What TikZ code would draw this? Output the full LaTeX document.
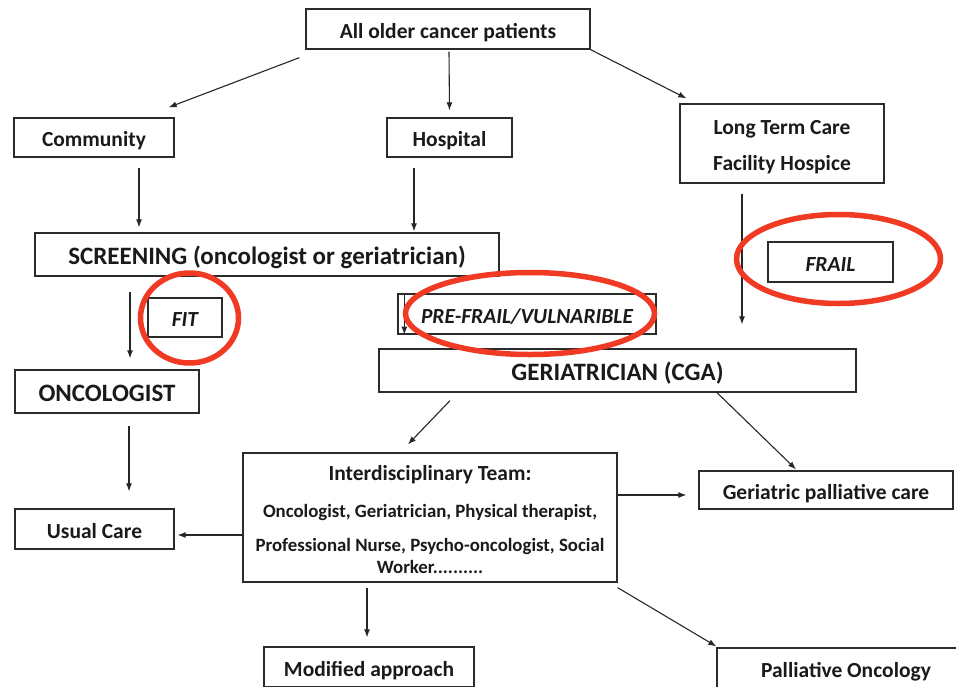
\documentclass[tikz,border=0pt]{standalone}
\usepackage{fontspec}
\setmainfont{Carlito}
\usepackage{xcolor}
\definecolor{BoxLine}{HTML}{2B2B2B}
\definecolor{ArrowLine}{HTML}{262626}
\definecolor{TextBlack}{HTML}{1A1A1A}
\definecolor{RingRed}{HTML}{F03A24}
\usepackage{tikz}
\usetikzlibrary{arrows.meta, positioning, calc}

\begin{document}
\begin{tikzpicture}[
  x=1pt, y=-1pt,
  every node/.style={font=\fontsize{21.5}{26}\selectfont\bfseries, text=TextBlack},
  box/.style={draw=BoxLine, line width=1.3pt, fill=white, inner sep=0pt,
              align=center},
  onebox/.style={box, text height=21pt, text depth=2.2pt},
  bigbox/.style={box, font=\fontsize{25}{30}\selectfont\bfseries,
                 text height=22.5pt, text depth=3.5pt},
  markbox/.style={onebox, font=\fontsize{21.5}{26}\selectfont\bfseries\itshape},
  arr/.style={-{Latex[length=8pt,width=6pt]}, draw=ArrowLine,
              line width=1.1pt},
  ring/.style={draw=RingRed, line width=5.5pt}
]
\useasboundingbox (0,0) rectangle (956,686);

\node[onebox, minimum width=284pt, minimum height=40pt] (ALL) at (448,29)
  {All older cancer patients};
\node[onebox, minimum width=160pt, minimum height=39pt] (COMM) at (94,137.5)
  {Community};
\node[onebox, minimum width=125pt, minimum height=39pt] (HOSP) at (449.5,137.5)
  {Hospital};
\node[box, minimum width=204pt, minimum height=79pt] (LTC) at (782,143.5)
  {\rule{0pt}{22pt}Long Term Care\\[10pt]Facility Hospice};
\node[bigbox, minimum width=464pt, minimum height=43pt] (SCREEN) at (267,254.5)
  {SCREENING (oncologist or geriatrician)};
\node[markbox, minimum width=74pt, minimum height=39pt] (FIT) at (185,317.5)
  {FIT};
\node[markbox, minimum width=258pt, minimum height=40pt] (PREFRAIL) at (527,314)
  {PRE-FRAIL/VULNARIBLE};
\node[markbox, minimum width=125pt, minimum height=40pt] (FRAIL) at (830.5,262)
  {FRAIL};
\node[bigbox, minimum width=184pt, minimum height=43pt] (ONC) at (107,391.5)
  {ONCOLOGIST};
\node[bigbox, minimum width=477pt, minimum height=43pt] (GER) at (617.5,370.5)
  {GERIATRICIAN (CGA)};
\node[box, minimum width=374pt, minimum height=129pt,
      font=\fontsize{18.8}{22}\selectfont\bfseries] (TEAM) at (430,517.5)
  {{\fontsize{21.5}{26}\selectfont\rule{0pt}{20pt}Interdisciplinary Team:}\\[15pt]
   Oncologist, Geriatrician, Physical therapist,\\[12pt]
   Professional Nurse, Psycho-oncologist, Social\\
   Worker..........};
\node[onebox, minimum width=254pt, minimum height=38pt] (GPC) at (826,490)
  {Geriatric palliative care};
\node[onebox, minimum width=159pt, minimum height=40pt] (USUAL) at (94.5,529)
  {Usual Care};
\node[onebox, minimum width=210pt, minimum height=40pt] (MOD) at (369,667)
  {Modified approach};
\node[onebox, minimum width=258pt, minimum height=40pt] (PALL) at (846,668)
  {Palliative Oncology};

% settings of care
\draw[arr] ([xshift=-6pt,yshift=-8pt]ALL.south west) --
  ([xshift=-6pt,yshift=10pt]COMM.north east);
\draw[arr] ([xshift=1pt,yshift=-2pt]ALL.south) --
  ([yshift=7pt]HOSP.north);
\draw[arr] (ALL.south east) --
  ([xshift=7pt,yshift=5pt]LTC.north west);

% screening
\draw[arr] ([xshift=45pt,yshift=-10pt]COMM.south) --
  ([xshift=-128pt,yshift=5pt]SCREEN.north);
\draw[arr] ([xshift=-35.5pt,yshift=-10pt]HOSP.south) --
  ([xshift=147pt,yshift=1pt]SCREEN.north);
\draw[arr] ([xshift=-137pt,yshift=-15pt]SCREEN.south) --
  ([xshift=23pt,yshift=11pt]ONC.north);
\draw[arr] ([xshift=7pt,yshift=-2pt]PREFRAIL.north west) --
  ([xshift=7pt]PREFRAIL.south west);
\draw[arr] ([xshift=-40pt,yshift=-10pt]LTC.south) --
  ([xshift=124.5pt,yshift=24pt]GER.north);

% after CGA
\draw[arr] ([xshift=-167.5pt,yshift=-8pt]GER.south) --
  ([xshift=-22pt,yshift=8pt]TEAM.north);
\draw[arr] ([xshift=99.5pt]GER.south) --
  ([xshift=-30pt,yshift=1pt]GPC.north);
\draw[arr] ([yshift=22.5pt]TEAM.east) --
  ([xshift=-12pt,yshift=-5pt]GPC.west);
\draw[arr] ([yshift=-17.5pt]TEAM.west) --
  ([xshift=3pt,yshift=-6pt]USUAL.east);
\draw[arr] ([xshift=-63pt,yshift=-5pt]TEAM.south) --
  ([xshift=-2pt,yshift=9pt]MOD.north);
\draw[arr] ([yshift=-5pt]TEAM.south east) --
  ([yshift=1pt]PALL.north west);
\draw[arr] ([xshift=22pt,yshift=-12pt]ONC.south) --
  ([xshift=34.5pt,yshift=17pt]USUAL.north);

% red marks
\draw[ring] (189.5,318) ellipse [x radius=49pt, y radius=45pt];
\draw[ring] (530,313.5) ellipse [x radius=124.5pt, y radius=41pt];
\draw[ring] (838.5,259) ellipse [x radius=102pt, y radius=44.5pt];

\end{tikzpicture}
\end{document}
